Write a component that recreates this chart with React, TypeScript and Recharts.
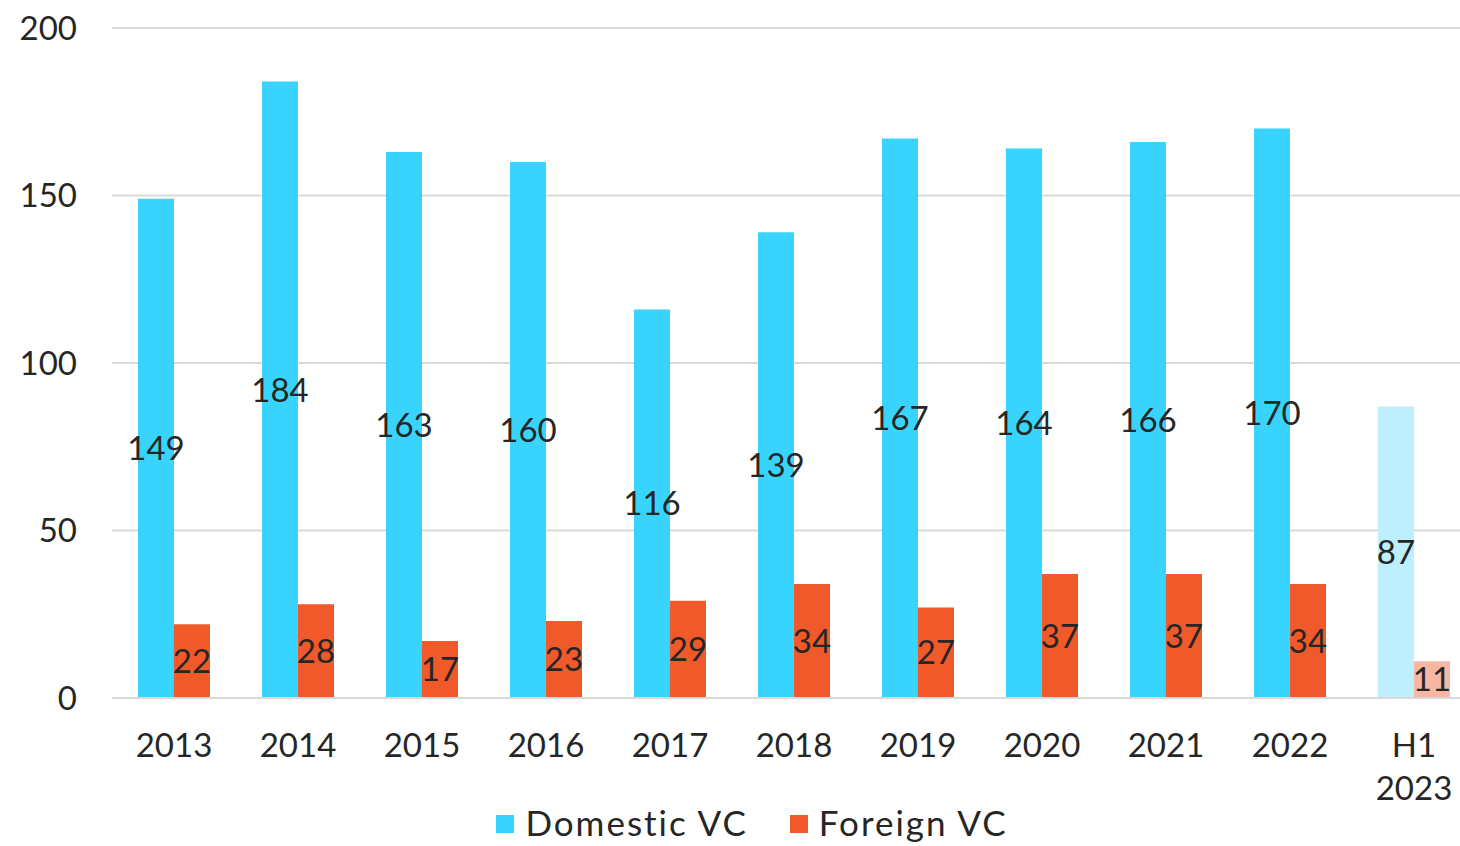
import { Bar, BarChart, CartesianGrid, Cell, LabelList, Legend, XAxis, YAxis } from "recharts";

const YEARS = ["2013", "2014", "2015", "2016", "2017", "2018", "2019", "2020", "2021", "2022", "H1\n2023"];
const DOMESTIC = [149, 184, 163, 160, 116, 139, 167, 164, 166, 170, 87];
const FOREIGN = [22, 28, 17, 23, 29, 34, 27, 37, 37, 34, 11];
const Y_TICKS = [0, 50, 100, 150, 200];

const COLORS = {
  domestic: "#38D4FE",
  domesticLight: "#BDEFFC",
  foreign: "#F05A2B",
  foreignLight: "#F7B7A3",
  text: "#262626",
  grid: "#D9D9D9",
};

const FONT = "Lato, 'Open Sans', sans-serif";
const FONT_SIZE = 33;

const data = YEARS.map((year, i) => ({
  year,
  domestic: DOMESTIC[i],
  foreign: FOREIGN[i],
}));

function YearTick({ x, y, payload }: any) {
  const lines = String(payload.value).split("\n");
  return (
    <text x={x} y={y} textAnchor="middle" fill={COLORS.text} fontSize={FONT_SIZE} fontFamily={FONT}>
      {lines.map((line, i) => (
        <tspan key={i} x={x} dy={i === 0 ? 51 : 43}>
          {line}
        </tspan>
      ))}
    </text>
  );
}

function LegendContent() {
  const items = [
    { label: "Domestic VC", color: COLORS.domestic },
    { label: "Foreign VC", color: COLORS.foreign },
  ];
  return (
    <div
      style={{
        display: "flex",
        justifyContent: "center",
        gap: 42,
        paddingLeft: 28,
        marginTop: -5,
        fontFamily: FONT,
        fontSize: 35,
        letterSpacing: 2,
        color: COLORS.text,
        lineHeight: "38px",
      }}
    >
      {items.map((item) => (
        <div key={item.label} style={{ display: "flex", alignItems: "center" }}>
          <span style={{ width: 18, height: 18, background: item.color, marginRight: 11, marginTop: 4 }} />
          <span>{item.label}</span>
        </div>
      ))}
    </div>
  );
}

export default function App() {
  // the source picture is cropped on the right, so the chart runs a bit past the frame
  return (
    <div style={{ position: "absolute", left: 0, top: 0, width: 1460, height: 846, background: "#fff", overflow: "hidden" }}>
      <BarChart
        width={1476}
        height={846}
        data={data}
        margin={{ top: 28, right: 0, left: 0, bottom: 0 }}
        barGap={0}
        barSize={36}
      >
        <CartesianGrid vertical={false} stroke={COLORS.grid} strokeWidth={2} />
        <XAxis
          dataKey="year"
          height={110}
          axisLine={{ stroke: COLORS.grid, strokeWidth: 2 }}
          tickLine={false}
          interval={0}
          tick={<YearTick />}
        />
        <YAxis
          domain={[0, 200]}
          ticks={Y_TICKS}
          width={112}
          axisLine={false}
          tickLine={false}
          tickSize={0}
          tickMargin={35}
          tick={{ fill: COLORS.text, fontSize: FONT_SIZE, fontFamily: FONT }}
        />
        <Legend verticalAlign="bottom" height={38} content={<LegendContent />} />
        <Bar dataKey="domestic" name="Domestic VC" fill={COLORS.domestic} isAnimationActive={false}>
          {data.map((d, i) => (
            <Cell key={d.year} fill={i === data.length - 1 ? COLORS.domesticLight : COLORS.domestic} />
          ))}
          <LabelList dataKey="domestic" position="center" fill={COLORS.text} fontSize={FONT_SIZE} fontFamily={FONT} />
        </Bar>
        <Bar dataKey="foreign" name="Foreign VC" fill={COLORS.foreign} isAnimationActive={false}>
          {data.map((d, i) => (
            <Cell key={d.year} fill={i === data.length - 1 ? COLORS.foreignLight : COLORS.foreign} />
          ))}
          <LabelList dataKey="foreign" position="center" fill={COLORS.text} fontSize={FONT_SIZE} fontFamily={FONT} />
        </Bar>
      </BarChart>
    </div>
  );
}
